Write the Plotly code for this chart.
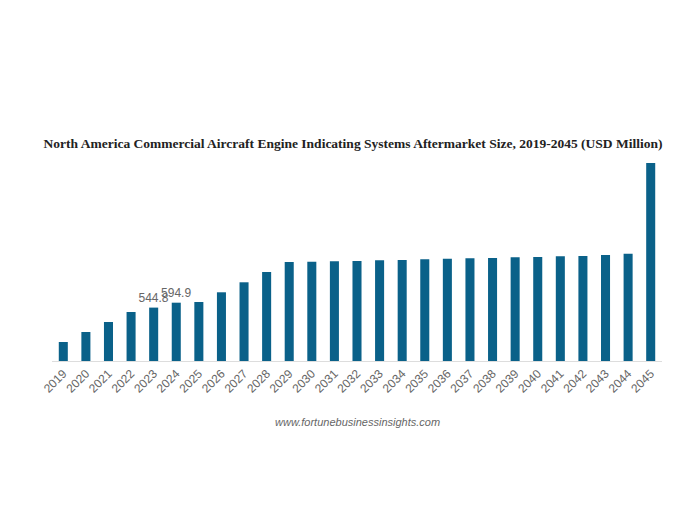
import plotly.graph_objects as go

years = [str(y) for y in range(2019, 2046)]
values = [194, 296, 398, 500, 544.8, 594.9, 602, 701, 803, 908, 1010, 1012, 1017,
          1020, 1027, 1030, 1037, 1044, 1048, 1051, 1058, 1061, 1068, 1071, 1081,
          1095, 2020]
label_years = ["2023", "2024"]

texts = [f"{v:.1f}" if y in label_years else "" for y, v in zip(years, values)]

W, H = 675, 502  # page body adds 8px margin on each side

fig = go.Figure()
fig.add_trace(go.Bar(
    x=years, y=values,
    marker=dict(color="#0a6189", line=dict(width=0)),
    text=texts, textposition="outside", constraintext="none",
    textfont=dict(family="Arial, Liberation Sans, sans-serif", size=12, color="#666666"),
    cliponaxis=False,
    hoverinfo="x+y",
))

fig.update_layout(
    width=W, height=H,
    margin=dict(l=44, r=21, t=155, b=149, autoexpand=False),
    paper_bgcolor="white", plot_bgcolor="white",
    bargap=0.6,
    showlegend=False,
    title=dict(
        text="<b>North America Commercial Aircraft Engine Indicating Systems Aftermarket Size, 2019-2045 (USD Million)</b>",
        font=dict(family="Liberation Serif, Times New Roman, serif", size=13.5, color="#222222"),
        x=345 / W, xanchor="center", xref="container",
        y=1 - 135 / H, yanchor="middle", yref="container",
    ),
    xaxis=dict(
        type="category",
        tickangle=-45,
        tickfont=dict(family="Arial, Liberation Sans, sans-serif", size=12, color="#666666"),
        showline=True, linecolor="#dddddd", linewidth=1,
        showgrid=False, ticks="", automargin=False,
    ),
    yaxis=dict(
        range=[0, 2020],
        visible=False, showgrid=False, zeroline=False,
    ),
    annotations=[dict(
        text="<i>www.fortunebusinessinsights.com</i>",
        x=0.5, xref="paper", y=(361 - 422) / 198, yref="paper",
        xanchor="center", yanchor="middle", showarrow=False,
        font=dict(family="Arial, Liberation Sans, sans-serif", size=11, color="#666666"),
    )],
)

fig.write_html("out.html")
